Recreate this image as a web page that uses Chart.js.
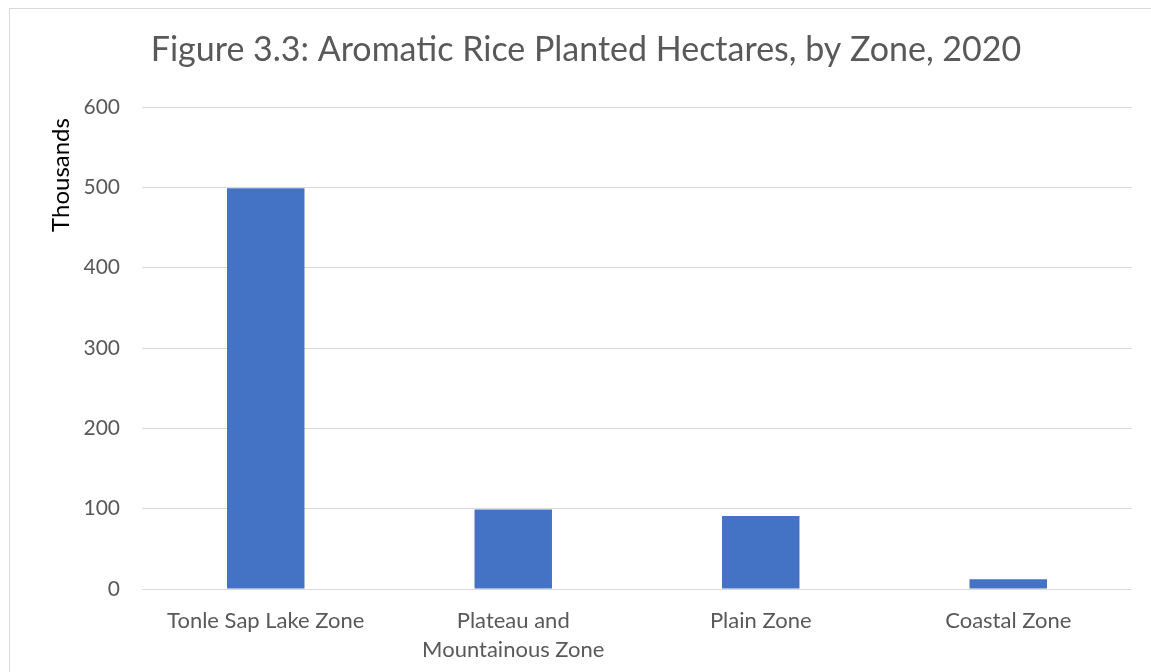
<!DOCTYPE html>
<html>
<head>
<meta charset="utf-8">
<script src="https://cdn.jsdelivr.net/npm/chart.js@4/dist/chart.umd.min.js"></script>
<style>
  html, body { margin: 0; padding: 0; background: #fff; }
  #wrap { position: relative; width: 1151px; height: 672px; overflow: hidden; }
  #frame { position: absolute; left: 9px; top: 8px; width: 1200px; height: 700px;
           border-left: 1px solid #d9d9d9; border-top: 1px solid #d9d9d9; box-sizing: border-box; }
  canvas { position: absolute; left: 0; top: 0; }
</style>
</head>
<body>
<div id="wrap">
  <div id="frame"></div>
  <canvas id="c" width="1151" height="672"></canvas>
</div>
<script>
const categories = ["Tonle Sap Lake Zone", ["Plateau and", "Mountainous Zone"], "Plain Zone", "Coastal Zone"];
const values = [499, 99, 91, 12];
const yTicks = [0, 100, 200, 300, 400, 500, 600];
const chartTitle = "Figure 3.3: Aromatic Rice Planted Hectares, by Zone, 2020";
const yAxisTitle = "Thousands";

const FONT = "Lato, 'Open Sans', sans-serif";

const textPlugin = {
  id: 'texts',
  afterDraw(chart) {
    const ctx = chart.ctx;
    ctx.save();
    ctx.fillStyle = '#595959';
    ctx.font = "34px " + FONT;
    ctx.textAlign = 'center';
    ctx.textBaseline = 'middle';
    ctx.fillText(chartTitle, 586, 50);
    ctx.restore();

    ctx.save();
    ctx.translate(61, 175);
    ctx.rotate(-Math.PI / 2);
    ctx.fillStyle = '#000000';
    ctx.font = "24px " + FONT;
    ctx.textAlign = 'center';
    ctx.textBaseline = 'middle';
    ctx.fillText(yAxisTitle, 0, 0);
    ctx.restore();
  }
};

new Chart(document.getElementById('c'), {
  type: 'bar',
  data: {
    labels: categories,
    datasets: [{
      data: values,
      backgroundColor: '#4472c4',
      borderWidth: 0,
      barPercentage: 0.313,
      categoryPercentage: 1.0
    }]
  },
  options: {
    responsive: false,
    animation: false,
    events: [],
    layout: { padding: { left: 0, right: 19, top: 107, bottom: 0 } },
    plugins: {
      legend: { display: false },
      tooltip: { enabled: false },
      title: { display: false }
    },
    scales: {
      x: {
        grid: { display: false, drawTicks: false },
        border: { display: false },
        ticks: {
          color: '#595959',
          font: { family: FONT, size: 22, lineHeight: 1.33 },
          padding: 17,
          maxRotation: 0,
          autoSkip: false
        },
        afterFit(scale) { scale.height = 83; }
      },
      y: {
        min: 0,
        max: 600,
        afterBuildTicks(scale) { scale.ticks = yTicks.map(v => ({ value: v })); },
        grid: { color: '#d9d9d9', lineWidth: 1, drawTicks: false },
        border: { display: false },
        ticks: {
          color: '#595959',
          font: { family: FONT, size: 21 },
          padding: 22
        },
        afterFit(scale) { scale.width = 142; }
      }
    }
  },
  plugins: [textPlugin]
});
</script>
</body>
</html>
